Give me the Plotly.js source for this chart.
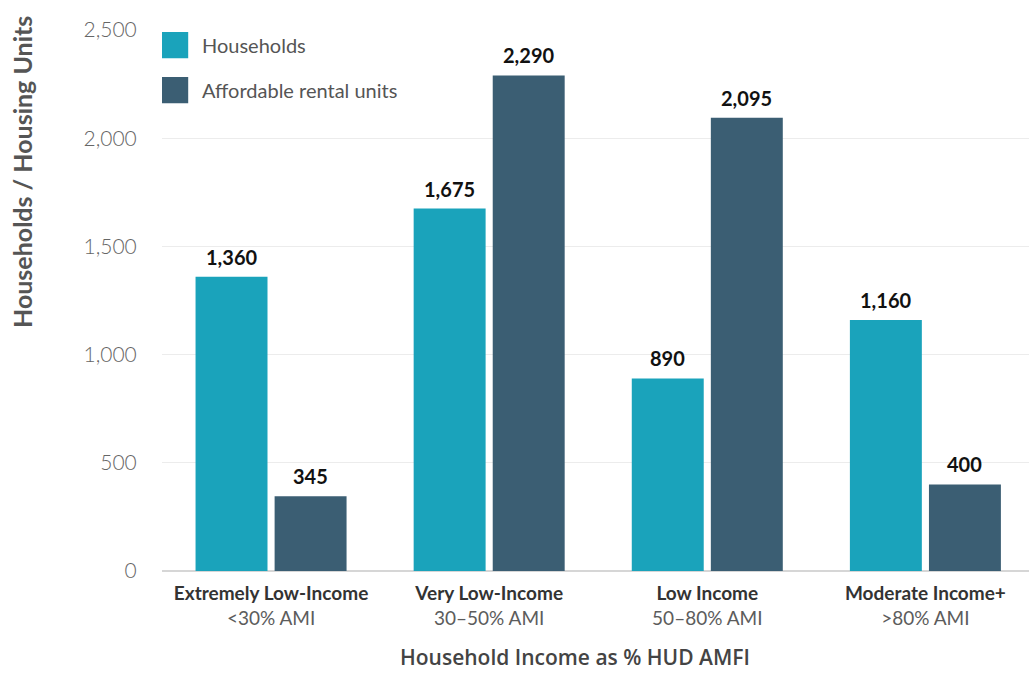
<!DOCTYPE html>
<html>
<head>
<meta charset="utf-8">
<script src="https://cdn.plot.ly/plotly-3.0.1.min.js"></script>
<style>html,body{margin:0;padding:0;background:#fff;}#chart{width:1029px;height:673px;}</style>
</head>
<body>
<div id="chart"></div>
<script>
// ---- data ----
const categories = ["Extremely Low-Income", "Very Low-Income", "Low Income", "Moderate Income+"];
const amiRanges = ["<30% AMI", "30–50% AMI", "50–80% AMI", ">80% AMI"];
const households = [1360, 1675, 890, 1160];
const affordableUnits = [345, 2290, 2095, 400];
const seriesNames = ["Households", "Affordable rental units"];
const yTickVals = [0, 500, 1000, 1500, 2000, 2500];
const yTitle = "Households / Housing Units";
const xTitle = "Household Income as % HUD AMFI";

// ---- styling ----
const colors = ["#1aa3bb", "#3b5e73"];
const FONT = "Lato, 'Open Sans', sans-serif";
const BAR_GAP = 0.275, GROUP_GAP = 0.09;

const esc = s => s.replace(/&/g,"&amp;").replace(/</g,"&lt;").replace(/>/g,"&gt;");
const idx = categories.map((_, i) => i);
const tickText = categories.map((c, i) =>
  '<b>' + esc(c) + '</b><br><span style="color:#5c5c5c;font-weight:400">' + esc(amiRanges[i]) + '</span>');

const seriesData = [households, affordableUnits];
const traces = seriesData.map((vals, s) => ({
  type: "bar",
  name: seriesNames[s],
  x: idx,
  y: vals,
  marker: { color: colors[s] },
  legendgroup: "g" + s,
  hoverinfo: "y+name"
}));

// value labels above bars (offset to the centre of each grouped bar)
const slot = (1 - BAR_GAP) / 2;
const annotations = [];
seriesData.forEach((vals, s) => {
  vals.forEach((v, i) => {
    annotations.push({
      x: i + (s === 0 ? -slot / 2 : slot / 2), y: v, xref: "x", yref: "y",
      text: v.toLocaleString("en-US"), showarrow: false,
      yanchor: "bottom", yshift: 6,
      font: { family: FONT, size: 20, color: "#111", weight: 700 }
    });
  });
});
annotations.push({
  text: "<b>" + yTitle + "</b>", xref: "paper", yref: "paper",
  x: -0.1615, y: 0.7375, xanchor: "center", yanchor: "middle",
  textangle: -90, showarrow: false,
  font: { family: FONT, size: 25, color: "#555" }
});
annotations.push({
  text: xTitle, xref: "paper", yref: "paper",
  x: 0.476, y: -0.159, xanchor: "center", yanchor: "middle",
  showarrow: false, borderpad: 0,
  font: { family: "'Open Sans', Lato, sans-serif", size: 21, color: "#444", weight: 600 }
});

const layout = {
  width: 1029, height: 673,
  margin: { l: 162, r: 0, t: 30, b: 102 },
  paper_bgcolor: "#fff", plot_bgcolor: "#fff",
  font: { family: FONT, color: "#555" },
  barmode: "group", bargap: BAR_GAP, bargroupgap: GROUP_GAP,
  showlegend: true,
  legend: {
    x: 0, y: 1.008, xanchor: "left", yanchor: "top",
    traceorder: "grouped", tracegroupgap: 16,
    font: { family: FONT, size: 20, color: "#555" },
    bgcolor: "rgba(0,0,0,0)"
  },
  xaxis: {
    type: "linear", range: [-0.5, 3.475],
    tickmode: "array", tickvals: idx, ticktext: tickText,
    tickfont: { family: FONT, size: 19, color: "#333" },
    showgrid: false, zeroline: false, showline: false,
    ticks: "outside", ticklen: 5, tickcolor: "rgba(0,0,0,0)",
    fixedrange: true
  },
  yaxis: {
    range: [0, 2500], tickmode: "array", tickvals: yTickVals,
    tickformat: ",d",
    tickfont: { family: FONT, size: 21, color: "#666", weight: 300 },
    showgrid: true, gridcolor: "#ececec", gridwidth: 1,
    zeroline: true, zerolinecolor: "#d6d6d6", zerolinewidth: 1.5,
    showline: false,
    ticks: "outside", ticklen: 20, tickcolor: "rgba(0,0,0,0)",
    fixedrange: true
  },
  annotations: annotations
};

Plotly.newPlot("chart", traces, layout, { displayModeBar: false, staticPlot: true }).then(() => {
  // enlarge legend swatches to match the reference's big square keys
  document.querySelectorAll("#chart .legend .legendpoints path").forEach(p => {
    p.setAttribute("transform", "translate(13,0) scale(2.2)");
  });
});
</script>
</body>
</html>
